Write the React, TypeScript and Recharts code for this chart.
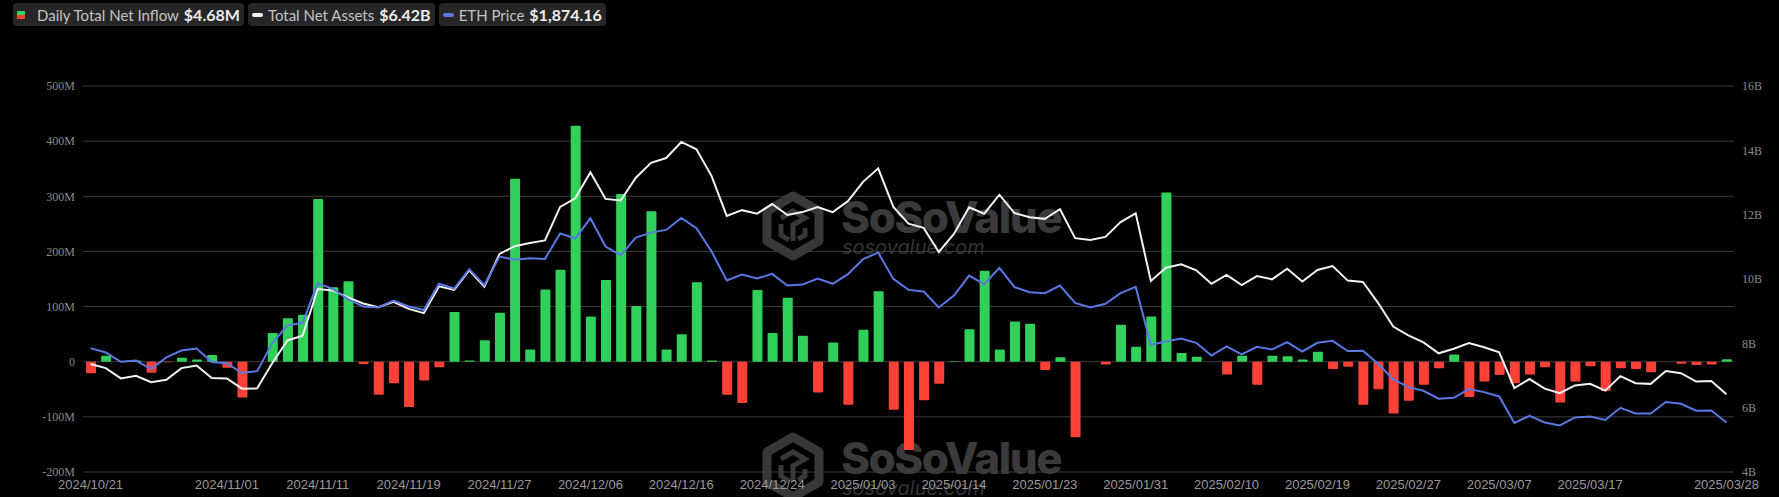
import { ComposedChart, Bar, Line, XAxis, YAxis, CartesianGrid, Cell } from 'recharts'

const DATES = [
  '2024/10/21', '2024/10/22', '2024/10/23', '2024/10/24', '2024/10/25', '2024/10/28', '2024/10/29', '2024/10/30', '2024/10/31', '2024/11/01',
  '2024/11/04', '2024/11/05', '2024/11/06', '2024/11/07', '2024/11/08', '2024/11/11', '2024/11/12', '2024/11/13', '2024/11/14', '2024/11/15',
  '2024/11/18', '2024/11/19', '2024/11/20', '2024/11/21', '2024/11/22', '2024/11/25', '2024/11/26', '2024/11/27', '2024/11/29', '2024/12/02',
  '2024/12/03', '2024/12/04', '2024/12/05', '2024/12/06', '2024/12/09', '2024/12/10', '2024/12/11', '2024/12/12', '2024/12/13', '2024/12/16',
  '2024/12/17', '2024/12/18', '2024/12/19', '2024/12/20', '2024/12/23', '2024/12/24', '2024/12/26', '2024/12/27', '2024/12/30', '2024/12/31',
  '2025/01/02', '2025/01/03', '2025/01/06', '2025/01/07', '2025/01/08', '2025/01/10', '2025/01/13', '2025/01/14', '2025/01/15', '2025/01/16',
  '2025/01/17', '2025/01/21', '2025/01/22', '2025/01/23', '2025/01/24', '2025/01/27', '2025/01/28', '2025/01/29', '2025/01/30', '2025/01/31',
  '2025/02/03', '2025/02/04', '2025/02/05', '2025/02/06', '2025/02/07', '2025/02/10', '2025/02/11', '2025/02/12', '2025/02/13', '2025/02/14',
  '2025/02/18', '2025/02/19', '2025/02/20', '2025/02/21', '2025/02/24', '2025/02/25', '2025/02/26', '2025/02/27', '2025/02/28', '2025/03/03',
  '2025/03/04', '2025/03/05', '2025/03/06', '2025/03/07', '2025/03/10', '2025/03/11', '2025/03/12', '2025/03/13', '2025/03/14', '2025/03/17',
  '2025/03/18', '2025/03/19', '2025/03/20', '2025/03/21', '2025/03/24', '2025/03/25', '2025/03/26', '2025/03/27', '2025/03/28',
]

// daily net inflow, $M
const INFLOW_M = [
  -21, 11, 0, 2, -20, -1, 7, 4, 12, -11,
  -65, 0, 52, 79, 85, 295, 135, 146, -4, -60,
  -39, -82, -34, -10, 90, 2, 39, 89, 332, 22,
  131, 167, 428, 82, 148, 304, 101, 273, 22, 50,
  144, 2, -60, -75, 130, 52, 116, 47, -56, 35,
  -78, 58, 128, -87, -160, -70, -40, 1, 59, 165,
  22, 73, 69, -15, 8, -137, 0, -5, 67, 27,
  82, 307, 16, 9, 0, -23, 11, -42, 11, 10,
  4, 18, -13, -9, -78, -50, -94, -71, -42, -12,
  13, -64, -36, -24, -39, -23, -10, -74, -36, -8,
  -53, -12, -13, -19, 0, -3.5, -6, -5, 4.68,
]

// total net assets, $B
const NET_ASSETS_B = [
  7.36, 7.23, 6.91, 6.99, 6.79, 6.87, 7.23, 7.31, 6.92, 6.91,
  6.59, 6.6, 7.39, 8.09, 8.24, 9.69, 9.64, 9.43, 9.24, 9.12,
  9.29, 9.07, 8.94, 9.77, 9.66, 10.27, 9.76, 10.78, 11.02, 11.12,
  11.2, 12.24, 12.51, 13.32, 12.49, 12.44, 13.15, 13.61, 13.76, 14.26,
  14.03, 13.2, 11.96, 12.14, 12.03, 12.33, 11.99, 12.08, 12.24, 12.08,
  12.42, 13.02, 13.44, 12.24, 11.72, 11.59, 10.84, 11.4, 12.23, 12.03,
  12.62, 12.05, 11.92, 11.87, 12.17, 11.27, 11.21, 11.31, 11.77, 12.04,
  9.94, 10.35, 10.46, 10.27, 9.85, 10.13, 9.81, 10.09, 9.99, 10.32,
  9.92, 10.28, 10.4, 9.95, 9.91, 9.26, 8.52, 8.25, 8.03, 7.69,
  7.83, 8.01, 7.88, 7.72, 6.61, 6.89, 6.59, 6.45, 6.69, 6.74,
  6.53, 6.98, 6.76, 6.74, 7.14, 7.07, 6.81, 6.83, 6.42,
]

// ETH price, $
const ETH_PRICE = [
  2647, 2601, 2505, 2518, 2429, 2550, 2622, 2643, 2502, 2491,
  2388, 2408, 2699, 2882, 2910, 3322, 3260, 3156, 3079, 3069,
  3141, 3079, 3042, 3315, 3266, 3467, 3301, 3598, 3564, 3581,
  3574, 3837, 3785, 3997, 3702, 3612, 3795, 3847, 3875, 4000,
  3893, 3650, 3349, 3411, 3370, 3418, 3297, 3307, 3370, 3315,
  3415, 3571, 3639, 3366, 3252, 3235, 3069, 3193, 3401, 3311,
  3481, 3280, 3228, 3218, 3297, 3117, 3069, 3107, 3218, 3283,
  2681, 2716, 2747, 2702, 2570, 2664, 2581, 2661, 2633, 2709,
  2612, 2702, 2723, 2616, 2619, 2484, 2325, 2242, 2204, 2121,
  2131, 2222, 2190, 2145, 1869, 1944, 1875, 1844, 1927, 1937,
  1900, 2027, 1968, 1968, 2087, 2069, 1996, 1999, 1874.16,
]

const X_TICKS = [
  '2024/10/21', '2024/11/01', '2024/11/11', '2024/11/19', '2024/11/27', '2024/12/06',
  '2024/12/16', '2024/12/24', '2025/01/03', '2025/01/14', '2025/01/23', '2025/01/31',
  '2025/02/10', '2025/02/19', '2025/02/27', '2025/03/07', '2025/03/17', '2025/03/28',
]
const LEFT_TICKS = [-200, -100, 0, 100, 200, 300, 400, 500]
const RIGHT_TICKS = [4, 6, 8, 10, 12, 14, 16]

const GREEN = '#31d05a'
const RED = '#fe4136'
const WHITE = '#f2f2f2'
const BLUE = '#5a78e2'

const data = DATES.map((date, i) => ({
  date,
  inflow: INFLOW_M[i],
  assets: NET_ASSETS_B[i],
  eth: ETH_PRICE[i],
}))

function LegendItem({ icon, label, value, gap }: { icon: React.ReactNode; label: string; value: string; gap: number }) {
  return (
    <div
      style={{
        display: 'flex',
        alignItems: 'center',
        height: 23,
        padding: '0 4px',
        background: '#262626',
        borderRadius: 4,
        fontFamily: 'Lato, sans-serif',
        whiteSpace: 'nowrap',
      }}
    >
      {icon}
      <span style={{ marginLeft: gap, fontSize: 15, color: '#c4c4c4' }}>{label}</span>
      <span style={{ marginLeft: 5, fontSize: 16, fontWeight: 700, color: '#ececec' }}>{value}</span>
    </div>
  )
}

function Watermark({ y }: { y: number }) {
  // hexagon logo + wordmark, drawn faint behind the chart
  const cx = 793
  const cy = y + 31
  const r = 30
  const hex = Array.from({ length: 6 }, (_, k) => {
    const a = (Math.PI / 3) * k - Math.PI / 2
    return `${cx + r * Math.cos(a)},${cy + r * Math.sin(a)}`
  }).join(' ')
  return (
    <g>
      <polygon points={hex} fill="none" stroke="#383838" strokeWidth={9} strokeLinejoin="round" />
      <path
        d={`M${cx - 12} ${cy - 8} L${cx} ${cy - 15} L${cx + 12} ${cy - 8} L${cx} ${cy - 1} L${cx} ${cy + 15} M${cx - 12} ${cy - 2} L${cx - 12} ${cy + 9} L${cx - 4} ${cy + 14} M${cx + 12} ${cy + 2} L${cx + 12} ${cy + 9} L${cx + 5} ${cy + 13}`}
        fill="none"
        stroke="#383838"
        strokeWidth={5}
      />
      <text x={841} y={y + 38} fill="#3a3a3a" fontFamily="Inter, sans-serif" fontWeight={800} fontSize={44} letterSpacing={-1.5}>
        SoSoValue
      </text>
      <text x={842} y={y + 59} fill="#353535" fontFamily="Inter, sans-serif" fontStyle="italic" fontSize={20}>
        sosovalue.com
      </text>
    </g>
  )
}

export default function App() {
  return (
    <div
      style={{
        position: 'absolute',
        left: 0,
        top: 0,
        width: 1779,
        height: 497,
        background: '#000',
        overflow: 'hidden',
      }}
    >
      <svg width={1779} height={497} style={{ position: 'absolute', left: 0, top: 0 }}>
        <Watermark y={195} />
        <Watermark y={436} />
      </svg>
      <div style={{ position: 'absolute', left: 0, top: 0 }}>
        <ComposedChart width={1779} height={497} data={data} margin={{ top: 86, right: 0, bottom: 0, left: 0 }}>
          <CartesianGrid vertical={false} stroke="#3c3c3c" yAxisId="left" />
          <XAxis
            dataKey="date"
            ticks={X_TICKS}
            interval={0}
            height={25}
            axisLine={false}
            tickLine={false}
            tick={{ fill: '#9a9a9a', fontSize: 13, fontFamily: '"Liberation Sans", Arial, sans-serif' }}
          />
          <YAxis
            yAxisId="left"
            domain={[-200, 500]}
            ticks={LEFT_TICKS}
            width={83}
            axisLine={false}
            tickLine={false}
            tickFormatter={(v: number) => (v === 0 ? '0' : `${v}M`)}
            tick={{ fill: '#8a8a8a', fontSize: 12, fontFamily: '"Liberation Serif", "Times New Roman", serif' }}
          />
          <YAxis
            yAxisId="right"
            orientation="right"
            domain={[4, 16]}
            ticks={RIGHT_TICKS}
            width={45}
            axisLine={false}
            tickLine={false}
            tickFormatter={(v: number) => `${v}B`}
            tick={{ fill: '#8a8a8a', fontSize: 12, fontFamily: '"Liberation Serif", "Times New Roman", serif' }}
          />
          <YAxis yAxisId="eth" orientation="right" hide width={0} domain={[1360, 5370]} />
          <Bar yAxisId="left" dataKey="inflow" barSize={10} radius={1} isAnimationActive={false}>
            {data.map((d) => (
              <Cell key={d.date} fill={d.inflow >= 0 ? GREEN : RED} />
            ))}
          </Bar>
          <Line yAxisId="right" type="linear" dataKey="assets" stroke={WHITE} strokeWidth={2} dot={false} isAnimationActive={false} />
          <Line yAxisId="eth" type="linear" dataKey="eth" stroke={BLUE} strokeWidth={2} dot={false} isAnimationActive={false} />
        </ComposedChart>
      </div>
      <div style={{ position: 'absolute', left: 13, top: 3, display: 'flex', gap: 4 }}>
        <LegendItem
          icon={
            <span style={{ display: 'inline-block', width: 8, height: 8 }}>
              <span style={{ display: 'block', height: 4, background: GREEN }} />
              <span style={{ display: 'block', height: 4, background: RED }} />
            </span>
          }
          gap={12}
          label="Daily Total Net Inflow"
          value="$4.68M"
        />
        <LegendItem
          icon={<span style={{ display: 'inline-block', width: 11, height: 4, borderRadius: 2, background: WHITE }} />}
          gap={5}
          label="Total Net Assets"
          value="$6.42B"
        />
        <LegendItem
          icon={<span style={{ display: 'inline-block', width: 11, height: 4, borderRadius: 2, background: BLUE }} />}
          gap={5}
          label="ETH Price"
          value="$1,874.16"
        />
      </div>
    </div>
  )
}
